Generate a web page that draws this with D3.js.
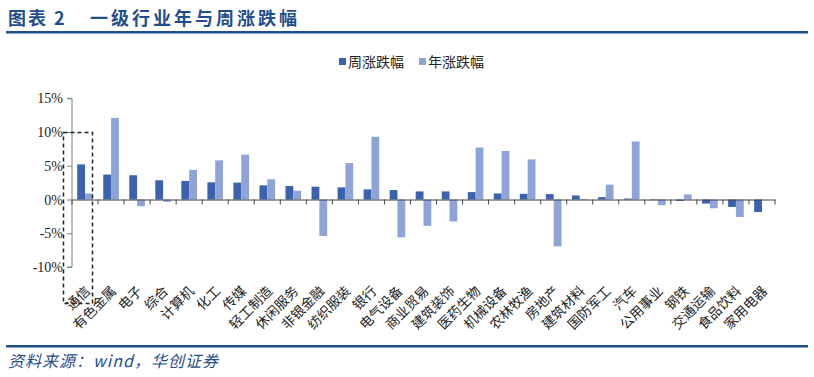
<!DOCTYPE html>
<html>
<head>
<meta charset="utf-8">
<script src="https://cdn.jsdelivr.net/npm/d3@7"></script>
<style>
  body { margin: 0; background: #fff; }
  svg { display: block; }
</style>
</head>
<body>
<div id="chart"></div>
<script>
const categories = ["通信", "有色金属", "电子", "综合", "计算机", "化工", "传媒", "轻工制造", "休闲服务",
    "非银金融", "纺织服装", "银行", "电气设备", "商业贸易", "建筑装饰", "医药生物", "机械设备", "农林牧渔",
    "房地产", "建筑材料", "国防军工", "汽车", "公用事业", "钢铁", "交通运输", "食品饮料", "家用电器"];
const weekly = [5.2, 3.7, 3.6, 2.85, 2.75, 2.55, 2.5, 2.1, 2.0, 1.9, 1.8, 1.5, 1.4, 1.2, 1.2, 1.1, 0.9,
    0.85, 0.8, 0.6, 0.35, 0.15, -0.1, -0.2, -0.6, -1.1, -1.85];
const annual = [0.9, 12.1, -1.0, -0.35, 4.4, 5.8, 6.65, 3.0, 1.3, -5.4, 5.4, 9.3, -5.6, -3.9, -3.25, 7.7,
    7.2, 5.95, -6.95, 0.1, 2.2, 8.6, -0.85, 0.75, -1.3, -2.6, 0];
const yTicks = [15, 10, 5, 0, -5, -10];
const seriesNames = ["周涨跌幅", "年涨跌幅"];
const colors = ["#3A62AE", "#8FA4D6"];

const W = 814, H = 377;
const svg = d3.select("#chart").append("svg").attr("width", W).attr("height", H);
const navy = "#1F4E8C";
const cjk = "'Noto Sans CJK SC', sans-serif";

// header
svg.append("text").attr("x", 8).attr("y", 25)
    .style("font-family", cjk).style("font-weight", "bold")
    .style("font-size", "18px").style("letter-spacing", "2px").attr("fill", navy)
    .text("图表 2");
svg.append("text").attr("x", 90).attr("y", 25)
    .style("font-family", cjk).style("font-weight", "bold")
    .style("font-size", "18px").style("letter-spacing", "3px").attr("fill", navy)
    .text("一级行业年与周涨跌幅");
svg.append("rect").attr("x", 6).attr("y", 31).attr("width", 802).attr("height", 2.5).attr("fill", navy);
svg.append("rect").attr("x", 6).attr("y", 345).attr("width", 802).attr("height", 2.5).attr("fill", navy);
svg.append("text").attr("x", 8).attr("y", 367)
    .style("font-family", cjk).style("font-style", "italic")
    .style("font-size", "16px").style("letter-spacing", "1px").attr("fill", navy)
    .text("资料来源：wind，华创证券");

const left = 72, right = 775;
const y = d3.scaleLinear().domain([-10, 15]).range([267, 98.3]);
const x = d3.scaleBand().domain(categories).range([left, right]);
const inner = d3.scaleBand().domain([0, 1]).range([x.bandwidth() * 0.2, x.bandwidth() * 0.8]);

const g = svg.append("g");

// bars
[weekly, annual].forEach((vals, si) => {
    g.selectAll(".bar" + si).data(vals).enter().append("rect")
        .attr("class", "bar" + si)
        .attr("x", (d, i) => x(categories[i]) + inner(si))
        .attr("y", d => y(Math.max(0, d)))
        .attr("width", inner.bandwidth())
        .attr("height", d => Math.abs(y(d) - y(0)))
        .attr("fill", colors[si]);
});

// y axis
const yAxis = g.append("g").attr("transform", `translate(${left},0)`)
    .call(d3.axisLeft(y).tickValues(yTicks).tickFormat(d => d + "%").tickSize(5).tickPadding(4));
yAxis.select(".domain").attr("stroke", "#808080").attr("d", `M-5,${y(-10)}H0V${y(15)}H-5`);
yAxis.selectAll(".tick line").attr("stroke", "#808080");
yAxis.selectAll("text").style("font-family", "'Liberation Serif', serif").style("font-size", "14px")
    .attr("fill", "#222");

// x axis at zero
const xAxis = g.append("g").attr("transform", `translate(0,${y(0)})`)
    .call(d3.axisBottom(x).tickSize(0).tickFormat(""));
xAxis.select(".domain").attr("stroke", "#444");
g.selectAll(".xtick").data(categories.concat([null])).enter().append("line")
    .attr("class", "xtick")
    .attr("x1", (d, i) => left + i * x.step()).attr("x2", (d, i) => left + i * x.step())
    .attr("y1", y(0)).attr("y2", y(0) + 5).attr("stroke", "#444");

// category labels
g.selectAll(".cat").data(categories).enter().append("text")
    .attr("class", "cat")
    .attr("transform", d => `translate(${x(d) + x.bandwidth() / 2 + 6},${292}) rotate(-45)`)
    .attr("text-anchor", "end")
    .style("font-family", cjk).style("font-size", "13.5px")
    .attr("fill", "#222")
    .text(d => d);

// highlight box
g.append("rect").attr("x", 63.5).attr("y", 132.5).attr("width", 29).attr("height", 171)
    .attr("fill", "none").attr("stroke", "#222").attr("stroke-width", 1.5).attr("stroke-dasharray", "4,3");

// legend
const lg = svg.append("g").attr("transform", "translate(339,62)");
seriesNames.forEach((name, i) => {
    const item = lg.append("g").attr("transform", `translate(${i * 80},0)`);
    item.append("rect").attr("x", 0).attr("y", -4).attr("width", 7).attr("height", 7).attr("fill", colors[i]);
    item.append("text").attr("x", 9).attr("y", 4.5)
        .style("font-family", cjk).style("font-size", "14px")
        .attr("fill", "#222").text(name);
});
</script>
</body>
</html>
